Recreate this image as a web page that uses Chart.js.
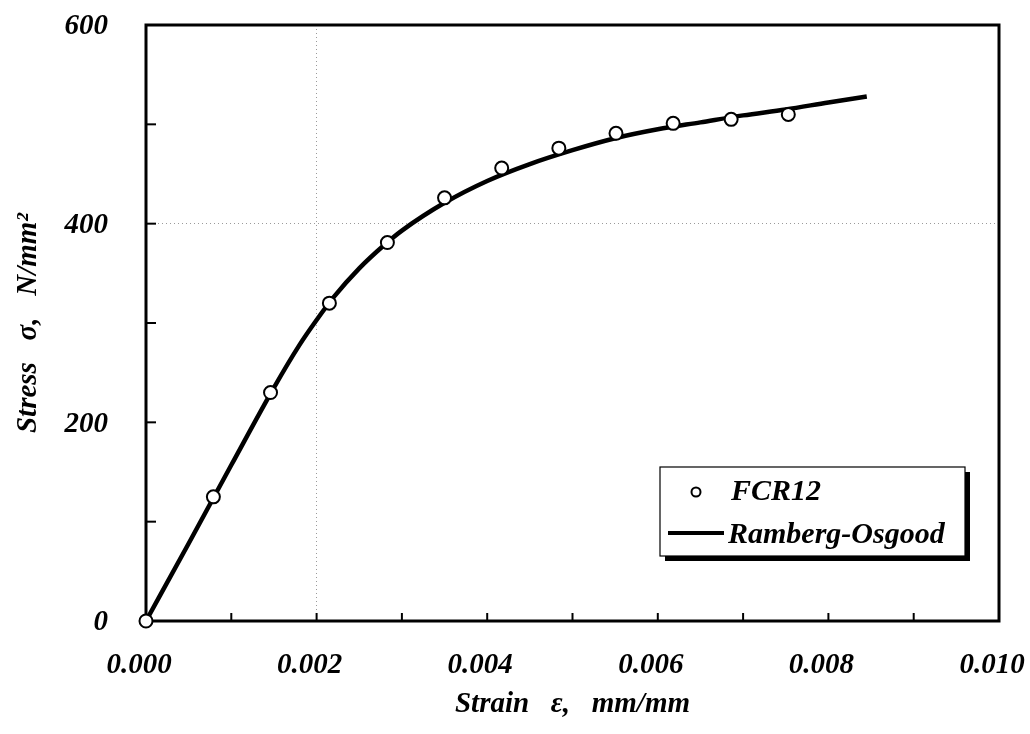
<!DOCTYPE html>
<html>
<head>
<meta charset="utf-8">
<script src="https://cdn.jsdelivr.net/npm/chart.js@4/dist/chart.umd.min.js"></script>
<style>
  html, body { margin: 0; padding: 0; background: #fff; }
  #wrap { width: 1030px; height: 734px; position: relative; }
</style>
</head>
<body>
<div id="wrap"><canvas id="stressChart"></canvas></div>
<script>
// FCR12 tensile test points
const strainTest = [0, 0.00079, 0.00146, 0.00215, 0.00283, 0.0035, 0.00417, 0.00484, 0.00551, 0.00618, 0.00686, 0.00753];
const stressTest = [0, 125, 230, 320, 381, 426, 456, 476, 491, 501, 505, 510];

// Ramberg-Osgood fitted curve
const strainFit = [0, 0.0005, 0.001, 0.0015, 0.0018, 0.002, 0.0022, 0.0025, 0.0028, 0.003, 0.0035, 0.004, 0.0045, 0.005, 0.0055, 0.006, 0.0065, 0.007, 0.0075, 0.008, 0.00845];
const stressFit = [0, 78, 157, 235, 278, 303, 326, 355, 379, 393, 421, 443, 460, 474, 486, 495, 502, 509, 515, 522, 528];

const seriesNames = ["FCR12", "Ramberg-Osgood"];
const strainMax = 0.01;
const stressMax = 600;

const FONT = "'Liberation Serif', 'Times New Roman', serif";

const toPoints = (xs, ys) => xs.map((x, i) => ({ x: x, y: ys[i] }));

// keep the plot box fixed: no extra room for overhanging tick labels
const noOverhang = (s) => {
    s.paddingLeft = 0;
    s.paddingRight = 0;
    s.paddingTop = 0;
    s.paddingBottom = 0;
};

// frame, inward ticks and the shadowed legend box
const framePlugin = {
    id: "frame",
    beforeDatasetsDraw(chart) {
        const { ctx, chartArea: a, scales } = chart;
        ctx.save();
        ctx.strokeStyle = "#000";
        ctx.lineWidth = 2;
        scales.x.ticks.forEach((t) => {
            const px = scales.x.getPixelForValue(t.value);
            ctx.beginPath();
            ctx.moveTo(px, a.bottom);
            ctx.lineTo(px, a.bottom - 8);
            ctx.stroke();
        });
        scales.y.ticks.forEach((t) => {
            const py = scales.y.getPixelForValue(t.value);
            ctx.beginPath();
            ctx.moveTo(a.left, py);
            ctx.lineTo(a.left + 10, py);
            ctx.stroke();
        });
        ctx.lineWidth = 3;
        ctx.strokeRect(a.left, a.top, a.right - a.left, a.bottom - a.top);
        ctx.restore();
    },
    afterDatasetsDraw(chart) {
        const { ctx } = chart;
        const ds = chart.data.datasets;
        const bx = 660, by = 467, bw = 305, bh = 89;
        ctx.save();
        ctx.fillStyle = "#000";
        ctx.fillRect(bx + 5, by + bh, bw, 5);
        ctx.fillRect(bx + bw, by + 5, 5, bh);
        ctx.fillStyle = "#fff";
        ctx.fillRect(bx, by, bw, bh);
        ctx.strokeStyle = "#000";
        ctx.lineWidth = 1.2;
        ctx.strokeRect(bx, by, bw, bh);

        ctx.font = "italic bold 30px " + FONT;
        ctx.textBaseline = "middle";

        // marker entry
        ctx.beginPath();
        ctx.arc(696, 492, 4.5, 0, Math.PI * 2);
        ctx.fillStyle = "#fff";
        ctx.fill();
        ctx.lineWidth = 2;
        ctx.stroke();
        ctx.fillStyle = "#000";
        ctx.fillText(ds[0].label, 731, 492);

        // line entry
        ctx.beginPath();
        ctx.lineWidth = 4;
        ctx.moveTo(668, 533);
        ctx.lineTo(724, 533);
        ctx.stroke();
        ctx.fillText(ds[1].label, 728, 535);
        ctx.restore();
    }
};

const isNear = (v, target) => Math.abs(v - target) < 1e-9;

new Chart(document.getElementById("stressChart"), {
    type: "scatter",
    data: {
        datasets: [
            {
                label: seriesNames[0],
                data: toPoints(strainTest, stressTest),
                showLine: false,
                pointRadius: 6.5,
                pointBorderWidth: 2,
                pointBackgroundColor: "#fff",
                pointBorderColor: "#000",
                clip: false,
                order: 0,
            },
            {
                label: seriesNames[1],
                data: toPoints(strainFit, stressFit),
                showLine: true,
                borderColor: "#000",
                borderWidth: 4.5,
                pointRadius: 0,
                cubicInterpolationMode: "monotone",
                clip: false,
                order: 1,
            },
        ],
    },
    options: {
        responsive: true,
        maintainAspectRatio: false,
        animation: false,
        layout: { padding: { top: 25, right: 31, left: 0, bottom: 0 } },
        plugins: {
            legend: { display: false },
            tooltip: { enabled: false },
        },
        scales: {
            x: {
                type: "linear",
                min: 0,
                max: strainMax,
                afterFit: (s) => { s.height = 113; noOverhang(s); },
                border: { display: false, dash: [1, 3] },
                grid: {
                    drawTicks: false,
                    color: (c) => (c.tick && isNear(c.tick.value, 0.002) ? "#9a9a9a" : "transparent"),
                    lineWidth: 1,
                },
                ticks: {
                    stepSize: 0.001,
                    maxRotation: 0,
                    autoSkip: false,
                    padding: 27,
                    labelOffset: -7,
                    color: "#000",
                    font: { family: FONT, size: 29, style: "italic", weight: "bold" },
                    callback: (v) => (Math.round(v * 1000) % 2 === 0 ? v.toFixed(3) : ""),
                },
                title: {
                    display: true,
                    text: "Strain   \u03b5,   mm/mm",
                    color: "#000",
                    padding: { top: 0, bottom: 12 },
                    font: { family: FONT, size: 29, style: "italic", weight: "bold" },
                },
            },
            y: {
                min: 0,
                max: stressMax,
                afterFit: (s) => { s.width = 146; noOverhang(s); },
                border: { display: false, dash: [1, 3] },
                grid: {
                    drawTicks: false,
                    color: (c) => (c.tick && c.tick.value === 400 ? "#9a9a9a" : "transparent"),
                    lineWidth: 1,
                },
                ticks: {
                    stepSize: 100,
                    autoSkip: false,
                    padding: 38,
                    labelOffset: 2,
                    color: "#000",
                    font: { family: FONT, size: 29, style: "italic", weight: "bold" },
                    callback: (v) => (v % 200 === 0 ? v : ""),
                },
                title: {
                    display: true,
                    text: "Stress   \u03c3,   N/mm\u00b2",
                    color: "#000",
                    padding: { top: 11, bottom: 0 },
                    font: { family: FONT, size: 29, style: "italic", weight: "bold" },
                },
            },
        },
    },
    plugins: [framePlugin],
});
</script>
</body>
</html>
